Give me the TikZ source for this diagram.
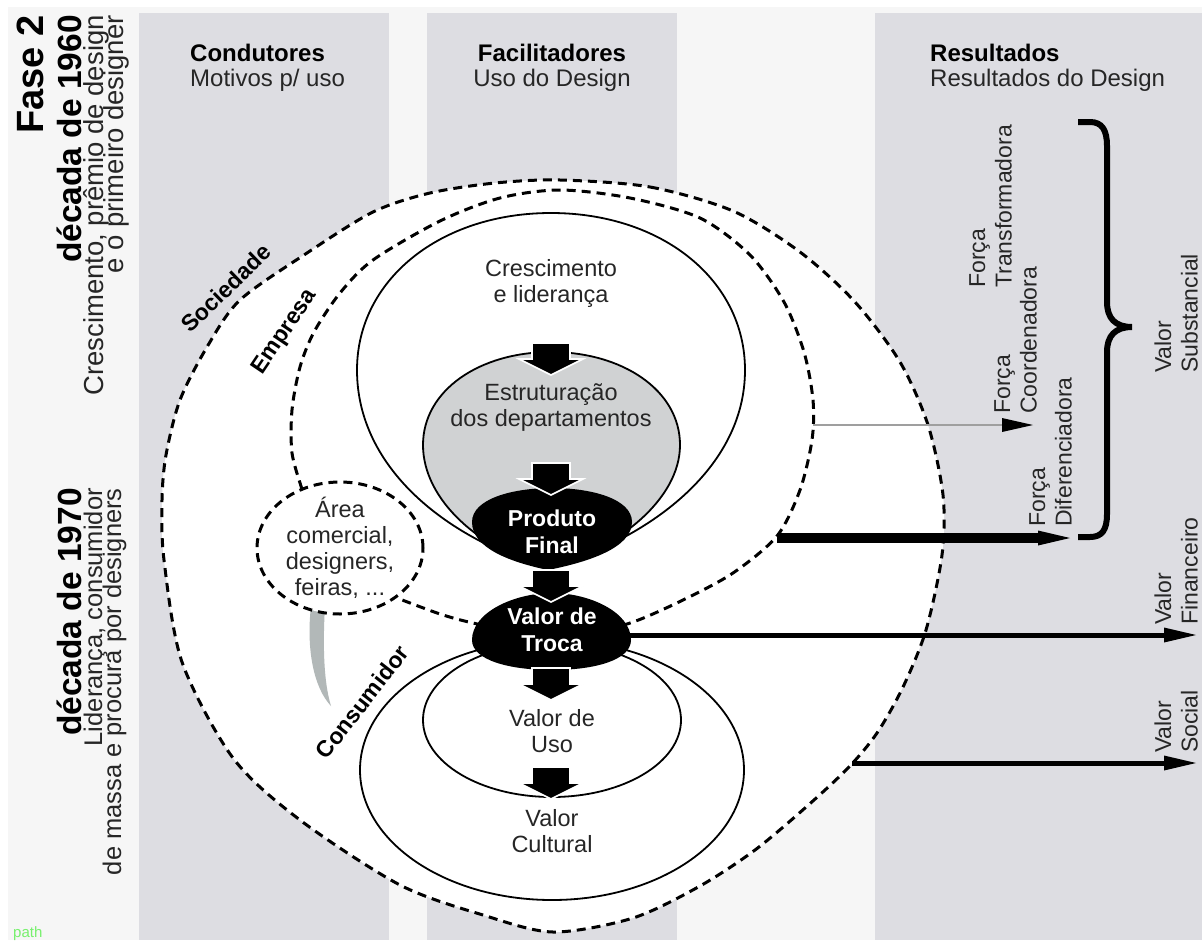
\documentclass[tikz,border=0pt]{standalone}
\usepackage{fontspec}
\setmainfont{Liberation Sans}
\usetikzlibrary{positioning, arrows.meta, shapes.geometric}
\definecolor{paper}{RGB}{246,246,246}
\definecolor{colgray}{RGB}{221,221,226}
\definecolor{deptgray}{RGB}{208,210,211}
\definecolor{tailgray}{RGB}{178,184,184}
\definecolor{ink}{RGB}{38,38,38}
\definecolor{pathgreen}{RGB}{120,240,110}

\tikzset{
  txt/.style={font=\fontsize{23.5}{26}\selectfont, align=center, text=ink, inner sep=0pt},
  wtxt/.style={font=\bfseries\fontsize{23}{27}\selectfont, align=center, text=white, inner sep=0pt},
  hdr/.style={font=\bfseries\fontsize{24}{28}\selectfont, inner sep=0pt},
  subhdr/.style={font=\fontsize{24}{28}\selectfont, text=ink, inner sep=0pt},
  vtxt/.style={rotate=90, anchor=south west, align=left, font=\fontsize{23}{26.5}\selectfont, text=ink, inner sep=0pt},
  era/.style={rotate=90, anchor=base east, inner sep=0pt},
  ring/.style={font=\bfseries\fontsize{23}{26}\selectfont, inner sep=0pt},
  dashline/.style={line width=3pt, dash pattern=on 9pt off 6pt},
  rim/.style={line width=1.8pt},
  res/.style={-{Triangle[length=32pt, width=15pt, line width=0pt]}},
  downarrow/.pic={\filldraw[fill=black, draw=white, line width=1.6pt]
    (-19,0) -- (19,0) -- (19,16) -- (32,16) -- (0,32) -- (-32,16) -- (-19,16) -- cycle;}
}

\begin{document}
\begin{tikzpicture}[x=1pt, y=-1pt]
  \useasboundingbox (0,0) rectangle (1202,940);
  \fill[white] (0,0) rectangle (1202,940);
  \fill[paper] (8,7) rectangle (1202,940);
  \fill[colgray] (139,13) rectangle (389,940);
  \fill[colgray] (427,13) rectangle (677,940);
  \fill[colgray] (875,13) rectangle (1202,940);

  \draw[dashline, fill=white] plot[smooth cycle] coordinates {
    (560,180) (650,187) (733,211) (800,252) (855,302) (900,362) (928,425)
    (943,495) (942,555) (926,630) (903,687) (877,733) (848,768) (805,808)
    (755,850) (700,886) (633,918) (553,932) (483,915) (400,885) (300,820)
    (233,758) (182,662) (164,560) (162,500) (166,455) (180,400) (207,347)
    (240,300) (307,253) (373,212) (430,193) (495,183)};
  \draw[dashline] plot[smooth] coordinates {
    (302,489) (292,453) (292,410) (300,367) (314,332) (340,293) (373,260)
    (440,221) (500,198) (560,190) (630,198) (700,218) (750,255) (784,302)
    (804,352) (813,400) (812,440) (800,490) (777,536) (733,573) (683,600)
    (633,622) (590,632) (520,632) (473,623) (440,614) (397,598)};

  \node[draw, rim, fill=white, ellipse, minimum width=384pt, minimum height=260pt] (cons) at (552,770) {};
  \node[draw, rim, fill=white, ellipse, minimum width=258pt, minimum height=154pt] (usoring) at (552,720) {};

  \draw[rim, fill=white] (548,568) .. controls (450,540) and (357,470) .. (357,370)
    .. controls (357,280) and (440,213) .. (551,213) .. controls (662,213) and (745,280) .. (745,370)
    .. controls (745,470) and (646,540) .. (548,568) -- cycle;
  \draw[rim, fill=deptgray] (548,568) .. controls (480,550) and (423,500) .. (423,445)
    .. controls (423,390) and (480,352) .. (551,352) .. controls (622,352) and (680,390) .. (680,445)
    .. controls (680,500) and (616,550) .. (548,568) -- cycle;
  \fill[black] (548,570) .. controls (510,562) and (472,548) .. (472,522)
    .. controls (472,499) and (512,488) .. (552,488) .. controls (592,488) and (632,499) .. (632,522)
    .. controls (632,548) and (588,562) .. (548,570) -- cycle;

  \fill[tailgray] (311,606) .. controls (306,650) and (314,688) .. (331,706)
    .. controls (323,680) and (323,640) .. (325,606) -- cycle;
  \node[draw, dashline, fill=white, ellipse, minimum width=166pt, minimum height=132pt, inner sep=0pt] (area) at (340,548) {};

  \fill[black] (472,640) .. controls (472,612) and (515,593) .. (552,593)
    .. controls (589,593) and (631,612) .. (631,640) .. controls (631,660) and (595,670) .. (552,670)
    .. controls (509,670) and (472,660) .. (472,640) -- cycle;

  \pic at (551,343) {downarrow};
  \pic at (551,463) {downarrow};
  \pic at (551,570) {downarrow};
  \pic at (551,668) {downarrow};
  \pic at (551,767) {downarrow};

  \node[txt] (cresc) at (551,283) {Crescimento\\e liderança};
  \node[txt] (dept) at (551,408) {Estruturação\\dos departamentos};
  \node[wtxt] (prod) at (552,532) {Produto\\Final};
  \node[wtxt] (troca) at (552,630) {Valor de\\Troca};
  \node[txt] (vuso) at (552,731) {Valor de\\Uso};
  \node[txt] (vcult) at (552,831) {Valor\\Cultural};
  \node[txt] (areatxt) at (area) {Área\\comercial,\\designers,\\feiras, ...};

  \node[ring, rotate=44] (soc) at (226,288) {Sociedade};
  \node[ring, rotate=56] (emp) at (285,332) {Empresa};
  \node[ring, rotate=52] (consl) at (362,702) {Consumidor};

  \node[hdr, anchor=base west] (cond) at (190,61) {Condutores};
  \node[subhdr, anchor=base west] (motiv) at ([yshift=-25pt]cond.base west) {Motivos p/ uso};
  \node[hdr, anchor=base] (facil) at (552,61) {Facilitadores};
  \node[subhdr, anchor=base] (usod) at ([yshift=-25pt]facil.base) {Uso do Design};
  \node[hdr, anchor=base west] (result) at (930,61) {Resultados};
  \node[subhdr, anchor=base west] (resd) at ([yshift=-25pt]result.base west) {Resultados do Design};

  \node[era, font=\bfseries\fontsize{38}{40}\selectfont] (fase) at (43,15) {Fase 2};
  \node[era, font=\bfseries\fontsize{33.5}{36}\selectfont] (dec60) at (81,15) {década de 1960};
  \node[era, font=\fontsize{27.5}{30}\selectfont, text=ink] (cresc60) at (103,15) {Crescimento, prêmio de design};
  \node[era, font=\fontsize{27.5}{30}\selectfont, text=ink] (prim60) at (123,15) {e o primeiro designer};
  \node[era, font=\bfseries\fontsize{33.5}{36}\selectfont] (dec70) at (81,488) {década de 1970};
  \node[era, font=\fontsize{25.5}{28}\selectfont, text=ink] (lid70) at (102,488) {Liderança, consumidor};
  \node[era, font=\fontsize{25.5}{28}\selectfont, text=ink] (mass70) at (121,488) {de massa e procura por designers};

  \node[vtxt] (ftrans) at (1012,288) {Força\\Transformadora};
  \node[vtxt] (fcoord) at (1037,414) {Força\\Coordenadora};
  \node[vtxt] (fdif) at (1072,527) {Força\\Diferenciadora};
  \node[vtxt] (vsub) at (1198,373) {Valor\\Substancial};
  \node[vtxt] (vfin) at (1198,625) {Valor\\Financeiro};
  \node[vtxt] (vsoc) at (1198,753) {Valor\\Social};

  \draw[line width=6pt] (1078,122) -- (1090,122) .. controls (1102,122) and (1107,130) .. (1107,146)
    -- (1107,302) .. controls (1107,318) and (1115,327) .. (1132,327)
    .. controls (1115,327) and (1107,336) .. (1107,352) -- (1107,514)
    .. controls (1107,530) and (1102,537) .. (1090,537) -- (1078,537);

  \coordinate (empA) at (813,425);
  \coordinate (empB) at (777,538);
  \coordinate (trocaE) at (629,635);
  \coordinate (socE) at (852,763);
  \coordinate (coordTip) at (1033,425);
  \coordinate (difTip) at (1070,538);
  \coordinate (finTip) at (1196,635);
  \coordinate (socTip) at (1196,763);

  \draw[line width=1.5pt, gray!75, -{Triangle[length=31pt, width=14pt, line width=0pt, color=black]}] (empA) -- (coordTip);
  \draw[line width=10pt, res] (empB) -- (difTip);
  \draw[line width=5pt, res] (trocaE) -- (finTip);
  \draw[line width=5pt, res] (socE) -- (socTip);

  \node[font=\fontsize{15}{17}\selectfont, text=pathgreen, anchor=base west, inner sep=0pt] (tag) at (13,937) {path};
\end{tikzpicture}
\end{document}
